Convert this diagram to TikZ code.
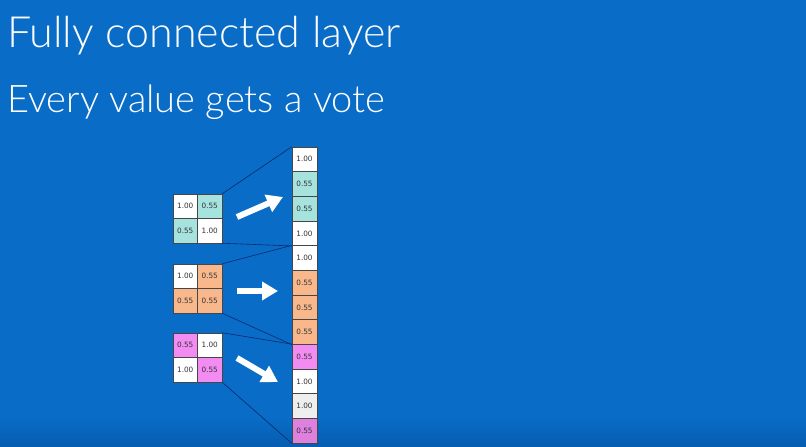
\documentclass[tikz,border=0pt]{standalone}
\usepackage{fontspec}
\setmainfont{DejaVu Sans}
\newfontfamily\headfont{Lato Light}
\usetikzlibrary{arrows.meta}
\definecolor{bgblue}{RGB}{9,108,198}
\definecolor{bgdark}{RGB}{6,92,176}
\definecolor{tealc}{RGB}{166,227,222}
\definecolor{orangec}{RGB}{248,184,140}
\definecolor{pinkc}{RGB}{242,140,242}
\definecolor{purplec}{RGB}{222,128,222}
\definecolor{grayc}{RGB}{238,238,238}
\definecolor{edgec}{RGB}{70,70,70}
\definecolor{numc}{RGB}{50,50,50}
\definecolor{wirec}{RGB}{10,40,110}
\begin{document}
\begin{tikzpicture}[x=1pt,y=-1pt,
  cell/.style={draw=edgec,line width=0.5pt,minimum width=25pt,minimum height=24.67pt,
    inner sep=0pt,font=\fontsize{7.3}{8}\selectfont,text=numc},
  gcell/.style={cell,minimum width=24.5pt,minimum height=24.5pt},
  wire/.style={draw=wirec,line width=0.6pt},
  vote/.style={white,line width=6pt,-{Triangle[width=18pt,length=16pt]}},
  head/.style={white,anchor=base west,inner sep=0pt}]
\useasboundingbox (0,0) rectangle (806,447);
\fill[bgblue] (0,0) rectangle (806,447);
\shade[top color=bgblue,bottom color=bgdark] (0,418) rectangle (806,447);

\node[head,font=\headfont\fontsize{43}{46}\selectfont] (title) at (7,47) {Fully connected layer};
\node[head,font=\headfont\fontsize{38}{41}\selectfont] (subtitle) at (7,112) {Every value gets a vote};

% output column
\foreach \i/\v/\c in {0/1.00/white,1/0.55/tealc,2/0.55/tealc,3/1.00/white,
                      4/1.00/white,5/0.55/orangec,6/0.55/orangec,7/0.55/orangec,
                      8/0.55/pinkc,9/1.00/white,10/1.00/grayc,11/0.55/purplec}
  \node[cell,fill=\c] (c\i) at (304.5,{147+24.67*(\i+0.5)}) {\v};

% input grids
\foreach \g/\y/\a/\ca/\b/\cb/\cc/\ccc/\d/\cd in {
    1/194/1.00/white/0.55/tealc/0.55/tealc/1.00/white,
    2/264/1.00/white/0.55/orangec/0.55/orangec/0.55/orangec,
    3/333/0.55/pinkc/1.00/white/1.00/white/0.55/pinkc}{
  \node[gcell,fill=\ca] (g\g a) at (185.25,\y+12.25) {\a};
  \node[gcell,fill=\cb] (g\g b) at (209.75,\y+12.25) {\b};
  \node[gcell,fill=\ccc] (g\g c) at (185.25,\y+36.75) {\cc};
  \node[gcell,fill=\cd] (g\g d) at (209.75,\y+36.75) {\d};
}

% fan-in lines
\draw[wire] (g1b.north east) -- (c0.north west);
\draw[wire] (g1d.south east) -- (c3.south west);
\draw[wire] (g2b.north east) -- (c4.north west);
\draw[wire] (g2d.south east) -- (c7.south west);
\draw[wire] (g3b.north east) -- (c8.north west);
\draw[wire] (g3d.south east) -- (c11.south west);

% arrows
\coordinate (a1s) at (237,217);
\coordinate (a1e) at (283,197);
\coordinate (a2s) at (237,291);
\coordinate (a2e) at (278,291);
\coordinate (a3s) at (237,358);
\coordinate (a3e) at (278,382);
\draw[vote] (a1s) -- (a1e);
\draw[vote] (a2s) -- (a2e);
\draw[vote] (a3s) -- (a3e);
\end{tikzpicture}
\end{document}
